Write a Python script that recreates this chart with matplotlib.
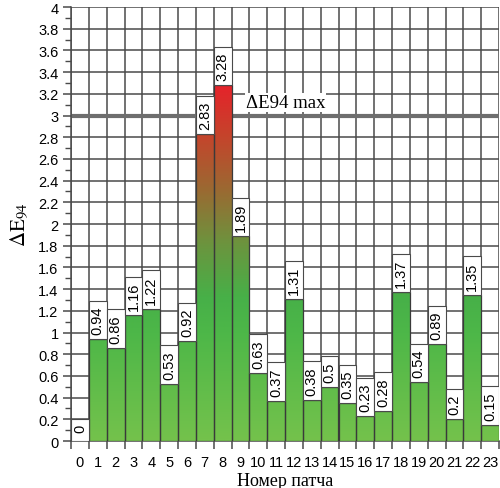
import numpy as np
import matplotlib
matplotlib.use("Agg")
import matplotlib.pyplot as plt
from matplotlib.colors import LinearSegmentedColormap, Normalize
from matplotlib.patches import Rectangle
from matplotlib.ticker import MultipleLocator, FixedLocator, NullFormatter, FixedFormatter

patches_ids = list(range(24))
values = [0, 0.94, 0.86, 1.16, 1.22, 0.53, 0.92, 2.83, 3.28, 1.89, 0.63, 0.37,
          1.31, 0.38, 0.5, 0.35, 0.23, 0.28, 1.37, 0.54, 0.89, 0.2, 1.35, 0.15]
labels = ["0", "0.94", "0.86", "1.16", "1.22", "0.53", "0.92", "2.83", "3.28", "1.89",
          "0.63", "0.37", "1.31", "0.38", "0.5", "0.35", "0.23", "0.28", "1.37", "0.54",
          "0.89", "0.2", "1.35", "0.15"]
threshold = 3.0
threshold_label = "ΔE94 max"

plt.rcParams['mathtext.fontset'] = 'stix'
sans = ['Liberation Sans', 'DejaVu Sans']
serif = ['Liberation Serif', 'DejaVu Serif']

fig = plt.figure(figsize=(5.0, 4.89), dpi=100)
ax = fig.add_axes([0.142, 0.0961, 0.856, 0.8875])

cmap = LinearSegmentedColormap.from_list("g2r", [
    (0.0, "#74c24c"), (0.3, "#4db748"), (0.4, "#47b048"), (0.55, "#6c943e"),
    (0.7, "#9a6a32"), (0.85, "#c4452c"), (1.0, "#e6222a")])
norm = Normalize(0, 3.3)

for i, v in zip(patches_ids, values):
    if v > 0:
        grad = np.linspace(0, v, 256).reshape(-1, 1)
        ax.imshow(grad, extent=(i - 0.5, i + 0.5, 0, v), origin='lower', cmap=cmap,
                  norm=norm, aspect='auto', zorder=3, interpolation='bilinear')
        ax.add_patch(Rectangle((i - 0.5, 0), 1, v, fill=False, ec='#3a3a3a', lw=0.9, zorder=4))

ax.set_xlim(-0.5, 23.5)
ax.set_ylim(0, 4)

# grid
ax.xaxis.set_major_locator(FixedLocator(np.arange(-0.5, 24, 1)))
ax.xaxis.set_major_formatter(NullFormatter())
ax.xaxis.set_minor_locator(FixedLocator(patches_ids))
ax.xaxis.set_minor_formatter(FixedFormatter([str(p) for p in patches_ids]))
ax.yaxis.set_major_locator(MultipleLocator(0.2))
ax.yaxis.set_minor_locator(MultipleLocator(0.1))
ax.yaxis.set_major_formatter(matplotlib.ticker.FuncFormatter(lambda y, p: f"{y:.1f}".rstrip('0').rstrip('.') if y != 0 else "0"))
ax.grid(True, which='major', color='#4a4a4a', lw=1.1, zorder=1)
ax.set_axisbelow(True)

ax.tick_params(axis='x', which='major', length=6, width=1.1, color='#4a4a4a', direction='out')
ax.tick_params(axis='x', which='minor', length=0, pad=10, labelsize=10.5)
ax.tick_params(axis='y', which='major', length=6, width=1.1, color='#4a4a4a', labelsize=10.5, pad=3)
ax.tick_params(axis='y', which='minor', length=4, width=1.0, color='#4a4a4a')
for lab in ax.get_xticklabels(minor=True) + ax.get_yticklabels():
    lab.set_family(sans)

for s in ['top', 'right']:
    ax.spines[s].set_visible(False)
for s in ['left', 'bottom']:
    ax.spines[s].set_color('#4a4a4a')
    ax.spines[s].set_linewidth(1.1)

# threshold line (behind bars and label boxes)
ax.axhline(threshold, color='#6e6e6e', lw=3, zorder=2)
ax.text(9.3, threshold + 0.04, threshold_label, family=serif, fontsize=13.5, ha='left', va='bottom',
        zorder=5, bbox=dict(boxstyle='square,pad=0.05', fc='white', ec='none'))

# value labels
fig.canvas.draw()
renderer = fig.canvas.get_renderer()
px_per_unit = ax.transData.transform((0, 1))[1] - ax.transData.transform((0, 0))[1]
pad_px = 5
min_px = 22
for i, v, lab in zip(patches_ids, values, labels):
    t = ax.text(i, v, lab, rotation=90, ha='center', va='center', family=sans, fontsize=10.5, zorder=7)
    ext = t.get_window_extent(renderer)
    hpx = max(ext.height + 2 * pad_px, min_px)
    h = hpx / px_per_unit
    ax.add_patch(Rectangle((i - 0.5, v), 1, h, fc='white', ec='#4a4a4a', lw=0.8, zorder=6))
    if hpx > ext.height + 2 * pad_px + 0.5:
        t.set_position((i, v + h - (ext.height / 2 + pad_px) / px_per_unit))
    else:
        t.set_position((i, v + h / 2))

ax.set_ylabel(r'$\Delta\mathrm{E}_{94}$', fontsize=15, labelpad=6)
ax.set_xlabel('Номер патча', family=serif, fontsize=13, labelpad=2)

fig.savefig("out.png", dpi=100)
